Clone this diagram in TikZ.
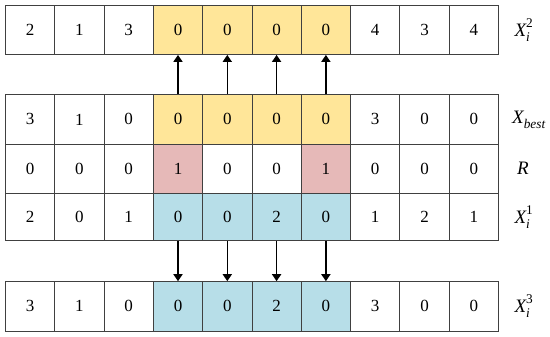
\documentclass[tikz,border=0pt]{standalone}
\usepackage{fontspec}
\setmainfont{Liberation Serif}
\usepackage{unicode-math}
\setmathfont{Latin Modern Math}
\usetikzlibrary{arrows.meta}
\definecolor{cy}{HTML}{FFE699}
\definecolor{cp}{HTML}{E6B9B8}
\definecolor{cb}{HTML}{B7DEE8}
\definecolor{edge}{HTML}{404040}
\begin{document}
\begin{tikzpicture}[x=1pt,y=-1pt,
  cell/.style={draw=edge,line width=0.9pt,minimum width=49.3pt,minimum height=49.3pt,inner sep=0pt,anchor=north west,font=\fontsize{17}{17}\selectfont},
  rowlbl/.style={font=\fontsize{19}{19}\selectfont},
  arr/.style={-{Triangle[length=7pt,width=9pt]},line width=1.6pt}]
\useasboundingbox (0,0) rectangle (550,337);
\def\cw{49.3}
\foreach \v [count=\i from 0] in {2,1,3,0,0,0,0,4,3,4}{
  \pgfmathsetmacro\xx{5+\i*\cw}
  \ifnum\i>2 \ifnum\i<7 \def\fc{cy}\else\def\fc{white}\fi\else\def\fc{white}\fi
  \node[cell,fill=\fc] (a\i) at (\xx,4.7) {\v};
}
\foreach \v [count=\i from 0] in {3,1,0,0,0,0,0,3,0,0}{
  \pgfmathsetmacro\xx{5+\i*\cw}
  \ifnum\i>2 \ifnum\i<7 \def\fc{cy}\else\def\fc{white}\fi\else\def\fc{white}\fi
  \node[cell,fill=\fc] (b\i) at (\xx,94.3) {\v};
}
\foreach \v [count=\i from 0] in {0,0,0,1,0,0,1,0,0,0}{
  \pgfmathsetmacro\xx{5+\i*\cw}
  \ifnum\i=3 \def\fc{cp}\else\ifnum\i=6 \def\fc{cp}\else\def\fc{white}\fi\fi
  \node[cell,fill=\fc] (r\i) at (\xx,143.6) {\v};
}
\foreach \v [count=\i from 0] in {2,0,1,0,0,2,0,1,2,1}{
  \pgfmathsetmacro\xx{5+\i*\cw}
  \ifnum\i>2 \ifnum\i<7 \def\fc{cb}\else\def\fc{white}\fi\else\def\fc{white}\fi
  \node[cell,fill=\fc,minimum height=47.4pt] (c\i) at (\xx,192.9) {\v};
}
\foreach \v [count=\i from 0] in {3,1,0,0,0,2,0,3,0,0}{
  \pgfmathsetmacro\xx{5+\i*\cw}
  \ifnum\i>2 \ifnum\i<7 \def\fc{cb}\else\def\fc{white}\fi\else\def\fc{white}\fi
  \node[cell,fill=\fc] (d\i) at (\xx,281.2) {\v};
}
% labels
\node[rowlbl] (la) at (524,30) {$\textit{X}_{\textit{i}}^{\textrm{2}}$};
\node[rowlbl] (lb) at (529,120) {$\textit{X}_{\textit{best}}$};
\node[rowlbl] (lr) at (523,168) {$\textit{R}$};
\node[rowlbl] (lc) at (524,217) {$\textit{X}_{\textit{i}}^{\textrm{1}}$};
\node[rowlbl] (ld) at (524,306) {$\textit{X}_{\textit{i}}^{\textrm{3}}$};
% arrows
\foreach \i in {3,4,5,6}{
  \draw[arr] (b\i.north) -- (a\i.south);
  \draw[arr] (c\i.south) -- (d\i.north);
}
\end{tikzpicture}
\end{document}
